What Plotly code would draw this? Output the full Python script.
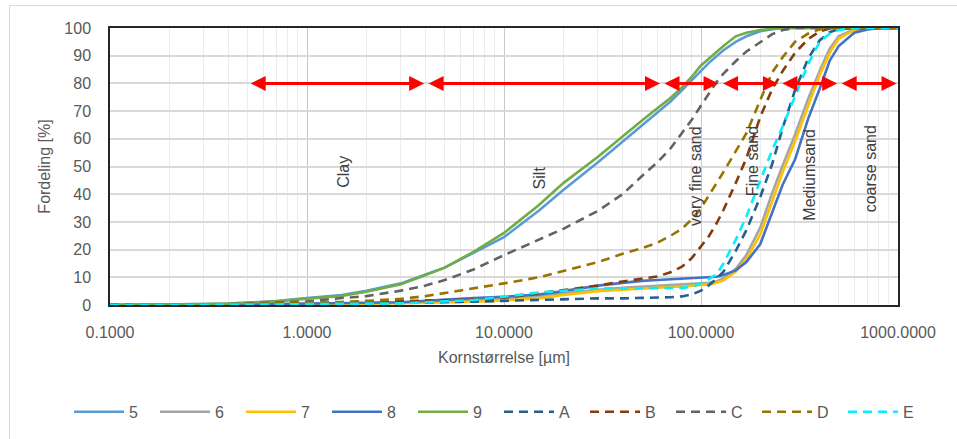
import numpy as np
import plotly.graph_objects as go

# grain size grid (µm)
SIZE_UM = [0.1, 0.2, 0.3, 0.4, 0.5, 0.7, 1, 1.5, 2, 3, 4, 5, 7, 10, 15, 20, 30, 40, 50, 60,
           70, 80, 90, 100, 110, 120, 130, 150, 170, 200, 230, 260, 300, 350, 400, 450, 500,
           600, 700, 800, 1000]

S5 = [0, 0.1, 0.3, 0.5, 0.8, 1.4, 2.5, 3.6, 5.1, 7.8, 11, 13.5, 18.8, 24.5, 34, 41.5, 51.5, 59, 64.5, 69.5,
      73.5, 77.5, 81, 84.5, 87.5, 90, 92, 95, 97, 98.8, 99.6, 100, 100, 100, 100, 100, 100,
      100, 100, 100, 100]
S6 = [0, 0, 0.1, 0.1, 0.2, 0.3, 0.4, 0.5, 0.6, 0.8, 1.1, 1.4, 1.9, 2.4, 3.2, 4.2, 5.5, 6.2, 6.6, 6.9,
      7.1, 7.3, 7.5, 7.7, 8, 8.6, 9.6, 13, 18, 28, 40.5, 50.5, 61.5, 74.5, 84.5, 92.5, 97,
      99.5, 99.9, 100, 100]
S7 = [0, 0, 0.05, 0.1, 0.1, 0.15, 0.2, 0.3, 0.4, 0.5, 0.7, 0.9, 1.2, 1.6, 2.4, 3.6, 5, 5.6, 6, 6.3,
      6.5, 6.7, 6.9, 7.1, 7.4, 8, 8.9, 12, 16.5, 25.5, 37.5, 48, 59, 72.2, 83, 91, 96.2,
      99.3, 99.8, 100, 100]
S8 = [0, 0, 0.1, 0.15, 0.2, 0.35, 0.5, 0.65, 0.8, 1, 1.5, 2, 2.5, 3, 3.8, 5, 7, 8, 8.7, 9,
      9.3, 9.6, 9.8, 10, 10.1, 10.2, 10.8, 12.5, 15.5, 22, 33.5, 43.5, 52.5, 67.3, 78, 88.2, 93.5,
      98.3, 99.5, 99.9, 100]
S9 = [0, 0.1, 0.3, 0.5, 0.8, 1.3, 2.3, 3.3, 4.8, 7.5, 10.8, 13.5, 19.2, 26, 36, 44, 53.5, 61, 66.5, 71,
      74.7, 78.5, 82.5, 86.5, 89, 91.5, 93.5, 97, 98.3, 99.3, 99.8, 100, 100, 100, 100, 100, 100,
      100, 100, 100, 100]
SA = [0, 0, 0, 0.05, 0.1, 0.2, 0.3, 0.45, 0.6, 0.8, 0.85, 0.9, 1.2, 1.5, 1.9, 2.2, 2.4, 2.4, 2.5, 2.6,
      2.8, 3.1, 3.8, 5.2, 7.2, 9.5, 12, 19.5, 27, 39, 51, 64, 77.5, 89, 95.5, 98.5, 99.6,
      100, 100, 100, 100]
SB = [0, 0, 0.05, 0.1, 0.2, 0.35, 0.6, 0.8, 1, 1.3, 1.5, 1.7, 2, 2.6, 4.2, 5.5, 7, 8.5, 9.5, 10.3,
      11.8, 13.8, 17, 21, 25, 29.5, 34.3, 44, 53, 68, 78, 84.5, 91, 96, 98.8, 99.8, 100,
      100, 100, 100, 100]
SC = [0, 0.05, 0.15, 0.3, 0.5, 0.8, 1.3, 2.5, 3.2, 5.2, 7, 9, 12.8, 18, 23.5, 27.5, 34, 40, 46.5, 51.5,
      56.5, 62, 67, 72, 76.5, 80.5, 83.5, 88, 91.5, 95, 97.8, 99.3, 100, 100, 100, 100, 100,
      100, 100, 100, 100]
SD = [0, 0, 0.1, 0.2, 0.3, 0.5, 0.8, 1.1, 1.5, 2.2, 3.2, 4.3, 5.8, 7.8, 10, 12.3, 15.5, 18.5, 20.5, 22.5,
      25, 27.5, 31, 35, 39.5, 44, 48, 55.5, 62, 74, 84, 89.5, 95, 98, 99.5, 100, 100,
      100, 100, 100, 100]
SE = [0, 0, 0.05, 0.1, 0.1, 0.2, 0.3, 0.35, 0.4, 0.6, 1, 1.3, 1.8, 3, 4.5, 5.1, 6, 6, 6, 6,
      6.1, 6.2, 6.6, 7.8, 9.5, 11, 15, 23.5, 32, 45, 56, 64.5, 75.5, 87, 95, 98, 99.3,
      100, 100, 100, 100]

SERIES_NAMES = ["5", "6", "7", "8", "9", "A", "B", "C", "D", "E"]
SERIES_VALUES = [S5, S6, S7, S8, S9, SA, SB, SC, SD, SE]
SERIES_COLORS = ["#5B9BD5", "#A5A5A5", "#FFC000", "#4472C4", "#70AD47",
                 "#255E91", "#843C0C", "#636363", "#997300", "#00F0FF"]
SERIES_DASHED = [False, False, False, False, False, True, True, True, True, True]

# size-class boundaries (µm) and labels
CLASS_BOUNDS = [0.5, 4, 63, 125, 250, 500, 1000]
ARROW_LEVEL = 80
CLASS_LABELS = ["Clay", "Silt", "very fine sand", "Fine sand", "Mediumsand", "coarse sand"]
LABEL_X = [1.52, 15.2, 93, 184, 357, 721]
LABEL_Y = [48, 46, 46.5, 52, 47, 49]

X_TICKS = [0.1, 1, 10, 100, 1000]
X_TICKTEXT = ["0.1000", "1.0000", "10.0000", "100.0000", "1000.0000"]
X_MINOR = [m * d for d in (0.1, 1, 10, 100) for m in range(2, 10)]

FONT = "Liberation Sans, Arial, sans-serif"
fig = go.Figure()
for name, vals, col, dashed in zip(SERIES_NAMES, SERIES_VALUES, SERIES_COLORS, SERIES_DASHED):
    fig.add_trace(go.Scatter(
        x=SIZE_UM, y=vals, name=name, mode="lines",
        line=dict(color=col, width=2.6, dash="9px,6px" if dashed else "solid"),
    ))

annotations = []
for a, b in zip(CLASS_BOUNDS[:-1], CLASS_BOUNDS[1:]):
    annotations.append(dict(
        x=np.log10(b), y=ARROW_LEVEL, ax=np.log10(a), ay=ARROW_LEVEL,
        xref="x", yref="y", axref="x", ayref="y", text="",
        showarrow=True, arrowhead=2, startarrowhead=2, arrowside="end+start",
        arrowsize=1.0, startarrowsize=1.0, arrowwidth=3, arrowcolor="#FF0000",
        standoff=1.5, startstandoff=1.5,
    ))
for lab, lx, ly in zip(CLASS_LABELS, LABEL_X, LABEL_Y):
    annotations.append(dict(
        x=np.log10(lx), y=ly, xref="x", yref="y", text=lab, showarrow=False,
        textangle=-90, font=dict(family=FONT, size=16, color="#404040"),
    ))

fig.update_layout(
    width=957, height=439,
    margin=dict(l=110, r=59, t=28, b=134, autoexpand=False),
    paper_bgcolor="white", plot_bgcolor="white",
    font=dict(family=FONT, size=16, color="#595959"),
    showlegend=True,
    legend=dict(orientation="h", x=-0.052, xanchor="left", y=-0.386, yanchor="middle",
                entrywidth=21, entrywidthmode="pixels", itemwidth=50,
                font=dict(family=FONT, size=16, color="#595959"), bgcolor="rgba(0,0,0,0)"),
    annotations=annotations,
    shapes=[dict(type="rect", xref="paper", yref="paper",
                 x0=-0.1275, x1=1.08, y0=-0.51, y1=1.081,
                 line=dict(color="#D9D9D9", width=1), layer="below")],
)
fig.update_xaxes(
    type="log", range=[-1, 3], tickvals=X_TICKS, ticktext=X_TICKTEXT,
    showgrid=True, gridcolor="#C8C8C8", gridwidth=1.2,
    minor=dict(tickvals=X_MINOR, showgrid=True, gridcolor="#ECECEC", gridwidth=1, ticks=""),
    showline=True, linecolor="#262626", linewidth=1.5, mirror=True,
    ticks="", ticklabelstandoff=12, zeroline=False,
    title=dict(text="Kornstørrelse [µm]", standoff=12, font=dict(size=16, color="#595959")),
)
fig.update_yaxes(
    range=[0, 100], dtick=10,
    showgrid=True, gridcolor="#D9D9D9", gridwidth=1.5,
    showline=True, linecolor="#262626", linewidth=1.5, mirror=True,
    ticks="", ticklabelstandoff=14, zeroline=False,
    title=dict(text="Fordeling [%]", standoff=10, font=dict(size=16, color="#595959")),
)
fig.write_html("out.html")
